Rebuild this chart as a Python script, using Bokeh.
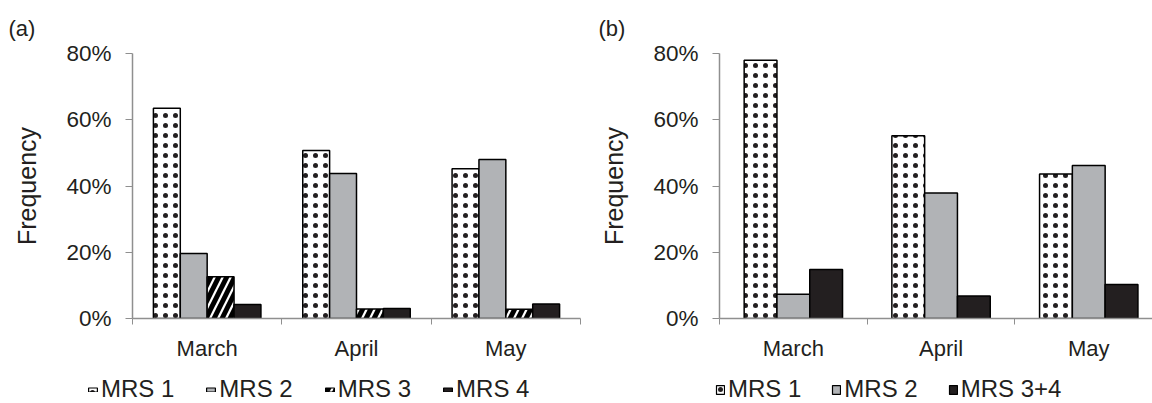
from bokeh.plotting import figure
from bokeh.layouts import row, column
from bokeh.models import (Range1d, FixedTicker, PrintfTickFormatter, Legend, LegendItem,
                          Title, ColumnDataSource)
from bokeh.embed import file_html
from bokeh.resources import INLINE
import numpy as np

# ---------------- data ----------------
months = ["March", "April", "May"]

a_labels = ["MRS 1", "MRS 2", "MRS 3", "MRS 4"]
a_mrs1 = [63.5, 50.7, 45.2]
a_mrs2 = [19.6, 43.8, 48.0]
a_mrs3 = [12.6, 2.9, 2.8]
a_mrs4 = [4.2, 3.0, 4.4]

b_labels = ["MRS 1", "MRS 2", "MRS 3+4"]
b_mrs1 = [78.0, 55.2, 43.6]
b_mrs2 = [7.3, 37.9, 46.2]
b_mrs34 = [14.8, 6.8, 10.3]

y_ticks = [0, 20, 40, 60, 80]

FONT = "Liberation Sans"
TXT = "#231f20"
AX = "#8f8f8f"
GRAY = "#b1b3b6"
BLACK = "#231f20"

MAIN_H = 373
LEG_H = 30

styles_a = [
    dict(fill_color="white", hatch_pattern="dot", hatch_scale=10, hatch_weight=0.8,
         hatch_color="#231f20"),
    dict(fill_color=GRAY),
    dict(fill_color="white", hatch_pattern="right_diagonal_line", hatch_scale=16, hatch_weight=5,
         hatch_color="black"),
    dict(fill_color=BLACK),
]
styles_b = [styles_a[0], styles_a[1], styles_a[3]]


def make_fig(width, border_left, border_right, x_end, title):
    p = figure(width=width, height=MAIN_H, x_range=Range1d(0, x_end), y_range=Range1d(0, 80),
               toolbar_location=None, output_backend="svg",
               min_border_left=border_left, min_border_right=border_right,
               min_border_top=53, min_border_bottom=MAIN_H - 53 - 265)
    p.outline_line_color = None
    p.xgrid.visible = False
    p.ygrid.visible = False
    p.background_fill_color = "white"
    p.border_fill_color = "white"

    xa = p.xaxis[0]
    xa.ticker = FixedTicker(ticks=[i + 0.5 for i in range(len(months))],
                            minor_ticks=list(range(len(months) + 1)))
    xa.major_label_overrides = {i + 0.5: m for i, m in enumerate(months)}
    xa.major_tick_out = 0
    xa.major_tick_in = 0
    xa.minor_tick_out = 6
    xa.minor_tick_in = 0
    xa.minor_tick_line_color = AX
    xa.axis_line_color = AX
    xa.axis_line_width = 1.5
    xa.major_label_text_font = FONT
    xa.major_label_text_font_size = "22px"
    xa.major_label_text_color = TXT
    xa.major_label_standoff = 11

    ya = p.yaxis[0]
    ya.ticker = FixedTicker(ticks=y_ticks, minor_ticks=[])
    ya.formatter = PrintfTickFormatter(format="%d%%")
    ya.major_tick_out = 7
    ya.major_tick_in = 0
    ya.minor_tick_out = 0
    ya.minor_tick_in = 0
    ya.major_tick_line_color = AX
    ya.axis_line_color = AX
    ya.axis_line_width = 1.5
    ya.major_label_text_font = FONT
    ya.major_label_text_font_size = "22.5px"
    ya.major_label_text_color = TXT
    ya.major_label_standoff = 14
    ya.axis_label = "Frequency"
    ya.axis_label_text_font = FONT
    ya.axis_label_text_font_size = "25px"
    ya.axis_label_text_font_style = "normal"
    ya.axis_label_text_color = TXT
    ya.axis_label_standoff = 22

    p.add_layout(Title(text=title, align="left", offset=-(border_left - 8), text_font=FONT,
                       text_font_size="22px", text_font_style="normal", text_color=TXT,
                       standoff=26), "above")
    return p


def add_bars(p, series, styles, bar_w):
    n = len(series)
    idx = np.arange(len(months))
    rs = []
    for k, (vals, st) in enumerate(zip(series, styles)):
        off = (k - (n - 1) / 2) * bar_w
        src = ColumnDataSource(dict(x=idx + 0.5 + off, top=vals, month=months))
        rs.append(p.vbar(x="x", top="top", bottom=0, width=bar_w, source=src,
                         line_color="black", line_width=1.5, **st))
    return rs


def make_legend_fig(width, series, labels, styles, x0, glyph_w, glyph_h, spacing):
    # legend strip: the series are drawn again but lie outside its visible y-range,
    # only their legend swatches show
    lf = figure(width=width, height=LEG_H, x_range=Range1d(0, 3), y_range=Range1d(1000, 1001),
                toolbar_location=None, output_backend="svg",
                x_axis_type=None, y_axis_type=None,
                min_border_left=0, min_border_right=0, min_border_top=0, min_border_bottom=0)
    lf.outline_line_color = None
    lf.xgrid.visible = False
    lf.ygrid.visible = False
    idx = np.arange(len(months))
    items = []
    for vals, lab, st in zip(series, labels, styles):
        src = ColumnDataSource(dict(x=idx + 0.5, top=vals))
        r = lf.vbar(x="x", top="top", bottom=0, width=0.1, source=src,
                    line_color="black", line_width=1.2, **st)
        items.append(LegendItem(label=lab, renderers=[r]))
    leg = Legend(items=items, orientation="horizontal", location=(x0, 0),
                 glyph_width=glyph_w, glyph_height=glyph_h, label_standoff=3, spacing=spacing,
                 padding=0, margin=0, border_line_alpha=0, background_fill_alpha=0,
                 label_text_font=FONT, label_text_font_size="24px", label_text_color=TXT)
    lf.add_layout(leg)
    return lf


pa = make_fig(590, 132, 10, 3, "(a)")
add_bars(pa, [a_mrs1, a_mrs2, a_mrs3, a_mrs4], styles_a, 0.18)

pb = make_fig(562, 129, 0, 433 / 147.7, "(b)")
add_bars(pb, [b_mrs1, b_mrs2, b_mrs34], styles_b, 0.222)

la = make_legend_fig(590, [a_mrs1, a_mrs2, a_mrs3, a_mrs4], a_labels, styles_a, 87, 11, 5, 31)
lb = make_legend_fig(562, [b_mrs1, b_mrs2, b_mrs34], b_labels, styles_b, 125, 10, 11, 30)

layout = column(row(pa, pb), row(la, lb))
open("out.html", "w").write(file_html(layout, INLINE))
